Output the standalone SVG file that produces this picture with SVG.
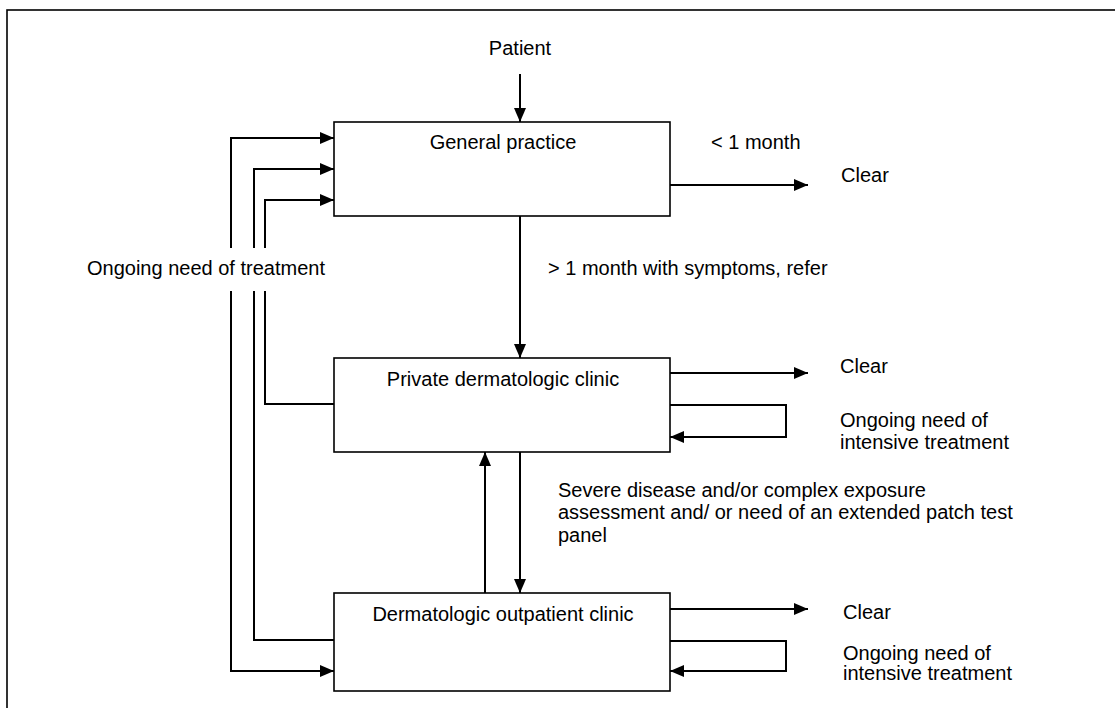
<svg xmlns="http://www.w3.org/2000/svg" width="1115" height="708" viewBox="0 0 1115 708">
<style>
text{font-family:"Liberation Sans",Arial,sans-serif;font-size:20px;fill:#000}
.box{fill:#fff;stroke:#000;stroke-width:1.6}
.c{fill:none;stroke:#000;stroke-width:2}
.mid{text-anchor:middle}
</style>
<defs>
<marker id="ah" markerUnits="userSpaceOnUse" markerWidth="14" markerHeight="12" refX="14" refY="6" orient="auto-start-reverse" viewBox="0 0 14 12">
<path d="M0,0 L14,6 L0,12 z" fill="#000"/>
</marker>
</defs>
<rect width="1115" height="708" fill="#fff"/>
<rect x="7" y="10" width="1120" height="710" fill="none" stroke="#000" stroke-width="1.6"/>
<g id="connectors">
<path class="c" d="M520,74 V122" marker-end="url(#ah)"/>
<path class="c" d="M670,185 H808" marker-end="url(#ah)"/>
<path class="c" d="M520,216 V358" marker-end="url(#ah)"/>
<path class="c" d="M670,373 H808" marker-end="url(#ah)"/>
<path class="c" d="M670,405 H786 V437 H670" marker-end="url(#ah)"/>
<path class="c" d="M334,404 H265 V200 H334" marker-end="url(#ah)"/>
<path class="c" d="M520,452 V593" marker-end="url(#ah)"/>
<path class="c" d="M485,593 V452" marker-end="url(#ah)"/>
<path class="c" d="M670,609 H808" marker-end="url(#ah)"/>
<path class="c" d="M670,641 H786 V671 H670" marker-end="url(#ah)"/>
<path class="c" d="M334,640 H254 V169 H334" marker-end="url(#ah)"/>
<path class="c" d="M334,138 H231 V671 H334" marker-start="url(#ah)" marker-end="url(#ah)"/>
<rect x="84" y="248" width="248" height="43" fill="#fff"/>
<text x="87" y="275">Ongoing need of treatment</text>
<text x="711" y="149">&lt; 1 month</text>
<text x="548" y="275">&gt; 1 month with symptoms, refer</text>
<text x="558" y="497">Severe disease and/or complex exposure</text>
<text x="558" y="519">assessment and/ or need of an extended patch test</text>
<text x="558" y="542">panel</text>
</g>
<g id="patient"><text class="mid" x="520" y="55">Patient</text></g>
<g id="general-practice">
<rect class="box" x="334" y="122" width="336" height="94"/>
<text class="mid" x="503" y="149">General practice</text>
</g>
<g id="private-clinic">
<rect class="box" x="334" y="358" width="336" height="94"/>
<text class="mid" x="503" y="386">Private dermatologic clinic</text>
</g>
<g id="outpatient-clinic">
<rect class="box" x="334" y="593" width="336" height="98"/>
<text class="mid" x="503" y="621">Dermatologic outpatient clinic</text>
</g>
<g id="clear-1"><text x="841" y="182">Clear</text></g>
<g id="clear-2"><text x="840" y="373">Clear</text></g>
<g id="ongoing-2"><text x="840" y="427">Ongoing need of</text><text x="840" y="449">intensive treatment</text></g>
<g id="clear-3"><text x="843" y="619">Clear</text></g>
<g id="ongoing-3"><text x="843" y="660">Ongoing need of</text><text x="843" y="680">intensive treatment</text></g>
</svg>
